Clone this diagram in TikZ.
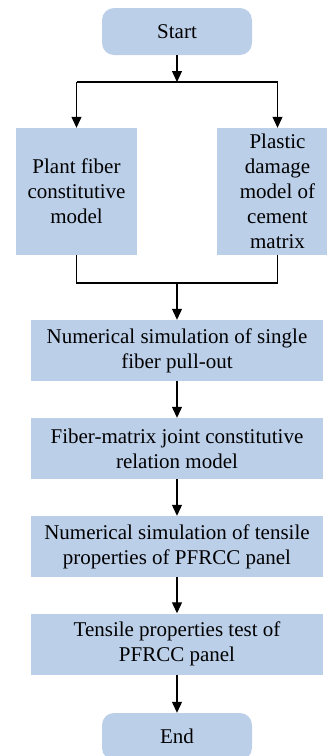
\documentclass[tikz,border=0pt]{standalone}
\usepackage{fontspec}
\setmainfont{Liberation Serif}
\usetikzlibrary{arrows.meta}
\definecolor{boxblue}{RGB}{188,207,233}

\begin{document}
\begin{tikzpicture}[
	x=1pt, y=-1pt,
	stepbox/.style={
		rectangle,
		fill=boxblue,
		inner sep=0pt,
		align=center,
		font=\fontsize{21}{25}\selectfont
	},
	endbox/.style={stepbox, rounded corners=12pt, minimum width=150pt, minimum height=47pt},
	widebox/.style={stepbox, minimum width=292pt, minimum height=61pt},
	sidebox/.style={stepbox, minimum width=121pt, minimum height=127pt},
	flowline/.style={black, line width=1.1pt},
	flowarrow/.style={flowline, -{Triangle[length=11pt,width=10pt]}},
]

\useasboundingbox (0,0) rectangle (327,756);
\clip (0,0) rectangle (327,756);

% boxes
\node[endbox] (start) at (177,31.5) {Start};
\node[sidebox] (plant) at (76.5,191.5) {Plant fiber\\constitutive\\model};
\node[sidebox] (plastic) at (277.5,191.5) {Plastic\\damage\\model of\\cement\\matrix};
\coordinate (split) at (177,82);
\coordinate (merge) at (177,283);
\node[widebox] (single) at (177,350.5) {Numerical simulation of single\\fiber pull-out};
\node[widebox] (joint) at (177,448.5) {Fiber-matrix joint constitutive\\relation model};
\node[widebox] (tensile) at (177,546.5) {Numerical simulation of tensile\\properties of PFRCC panel};
\node[widebox] (test) at (177,644) {Tensile properties test of\\PFRCC panel};
\node[endbox] (end) at (177,736.5) {End};

% split into the two models
\draw[flowarrow] (start) -- (split);
\draw[flowline] (plant.north |- split) -- (plastic.north |- split);
\draw[flowarrow] (plant.north |- split) -- (plant.north);
\draw[flowarrow] (plastic.north |- split) -- (plastic.north);

% merge back
\draw[flowline] (plant.south) -- (plant.south |- merge) -- (plastic.south |- merge) -- (plastic.south);
\draw[flowarrow] (merge) -- (single);

% main chain
\foreach \a/\b in {single/joint, joint/tensile, tensile/test, test/end} {
	\draw[flowarrow] (\a) -- (\b);
}

\end{tikzpicture}
\end{document}
